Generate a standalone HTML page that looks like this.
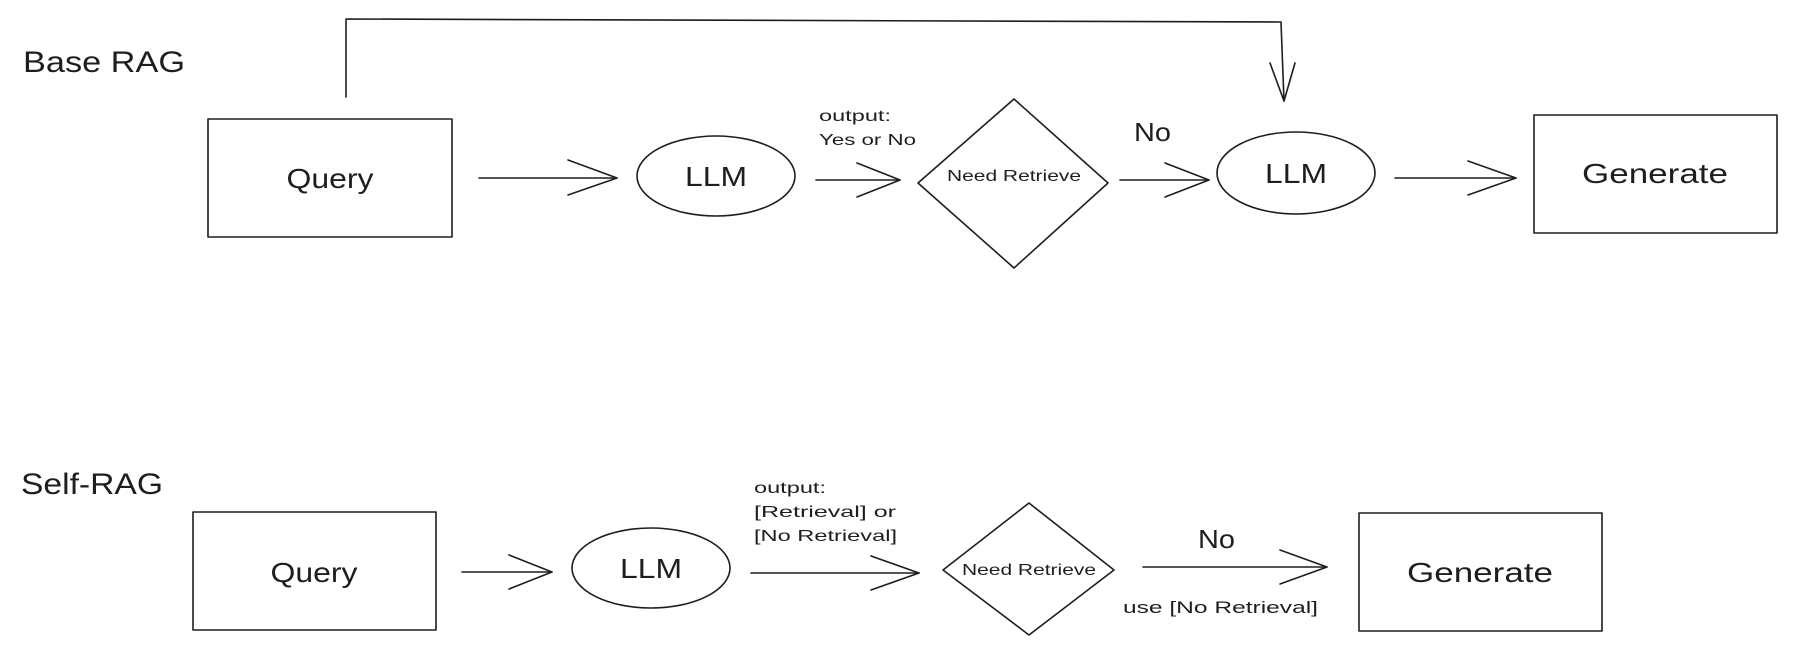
<!DOCTYPE html>
<html><head><meta charset="utf-8"><style>
html,body{margin:0;padding:0;background:#fff;}
svg{display:block;}
text{font-family:"Liberation Sans",sans-serif;fill:#1e1e1e;}
</style></head><body>
<svg width="1797" height="656" viewBox="0 0 1797 656" xmlns="http://www.w3.org/2000/svg">
<g fill="none" stroke="#1e1e1e" stroke-width="1.6" stroke-linecap="round" stroke-linejoin="round">
<polyline points="346,97 346,19 1281,22 1284,101"/>
<polyline points="1270,63 1284,101 1295,63"/>
<rect x="208" y="119" width="244" height="118"/>
<line x1="479" y1="178" x2="617" y2="178"/><polyline points="568,160 617,178 568,195"/>
<ellipse cx="716" cy="176" rx="79" ry="40"/>
<line x1="816" y1="180" x2="900" y2="180"/><polyline points="857,163 900,180 857,197"/>
<polygon points="1014,99 1108,183 1014,268 918,183"/>
<line x1="1120" y1="180" x2="1209" y2="180"/><polyline points="1165,163 1209,180 1165,197"/>
<ellipse cx="1296" cy="173" rx="79" ry="41"/>
<line x1="1395" y1="178" x2="1516" y2="178"/><polyline points="1468,161 1516,178 1468,195"/>
<rect x="1534" y="115" width="243" height="118"/>
<rect x="193" y="512" width="243" height="118"/>
<line x1="462" y1="572" x2="552" y2="572"/><polyline points="509,555 552,572 509,589"/>
<ellipse cx="651" cy="568" rx="79" ry="40"/>
<line x1="751" y1="573" x2="919" y2="573"/><polyline points="871,556 919,573 871,590"/>
<polygon points="1029,503 1114,570 1029,635 943,570"/>
<line x1="1143" y1="567" x2="1327" y2="567"/><polyline points="1280,550 1327,567 1280,584"/>
<rect x="1359" y="513" width="243" height="118"/>
</g>
<text x="23" y="72" font-size="30" textLength="162" lengthAdjust="spacingAndGlyphs">Base RAG</text>
<text x="21" y="494" font-size="30" textLength="142" lengthAdjust="spacingAndGlyphs">Self-RAG</text>
<g text-anchor="middle" lengthAdjust="spacingAndGlyphs">
<text x="330" y="188" font-size="28" textLength="87" lengthAdjust="spacingAndGlyphs">Query</text>
<text x="716" y="186" font-size="28" textLength="62" lengthAdjust="spacingAndGlyphs">LLM</text>
<text x="1014" y="181" font-size="16" textLength="134" lengthAdjust="spacingAndGlyphs">Need Retrieve</text>
<text x="1296" y="183" font-size="28" textLength="62" lengthAdjust="spacingAndGlyphs">LLM</text>
<text x="1655" y="183" font-size="28" textLength="146" lengthAdjust="spacingAndGlyphs">Generate</text>
<text x="314" y="582" font-size="28" textLength="87" lengthAdjust="spacingAndGlyphs">Query</text>
<text x="651" y="578" font-size="28" textLength="62" lengthAdjust="spacingAndGlyphs">LLM</text>
<text x="1029" y="575" font-size="16" textLength="134" lengthAdjust="spacingAndGlyphs">Need Retrieve</text>
<text x="1480" y="582" font-size="28" textLength="146" lengthAdjust="spacingAndGlyphs">Generate</text>
</g>
<text x="819" y="121" font-size="16" textLength="72" lengthAdjust="spacingAndGlyphs">output:</text>
<text x="819" y="145" font-size="16" textLength="97" lengthAdjust="spacingAndGlyphs">Yes or No</text>
<text x="1134" y="141" font-size="26" textLength="37" lengthAdjust="spacingAndGlyphs">No</text>
<text x="754" y="493" font-size="16" textLength="72" lengthAdjust="spacingAndGlyphs">output:</text>
<text x="754" y="517" font-size="16" textLength="142" lengthAdjust="spacingAndGlyphs">[Retrieval] or</text>
<text x="754" y="541" font-size="16" textLength="143" lengthAdjust="spacingAndGlyphs">[No Retrieval]</text>
<text x="1198" y="548" font-size="26" textLength="37" lengthAdjust="spacingAndGlyphs">No</text>
<text x="1123" y="613" font-size="17" textLength="195" lengthAdjust="spacingAndGlyphs">use [No Retrieval]</text>
</svg>
</body></html>
